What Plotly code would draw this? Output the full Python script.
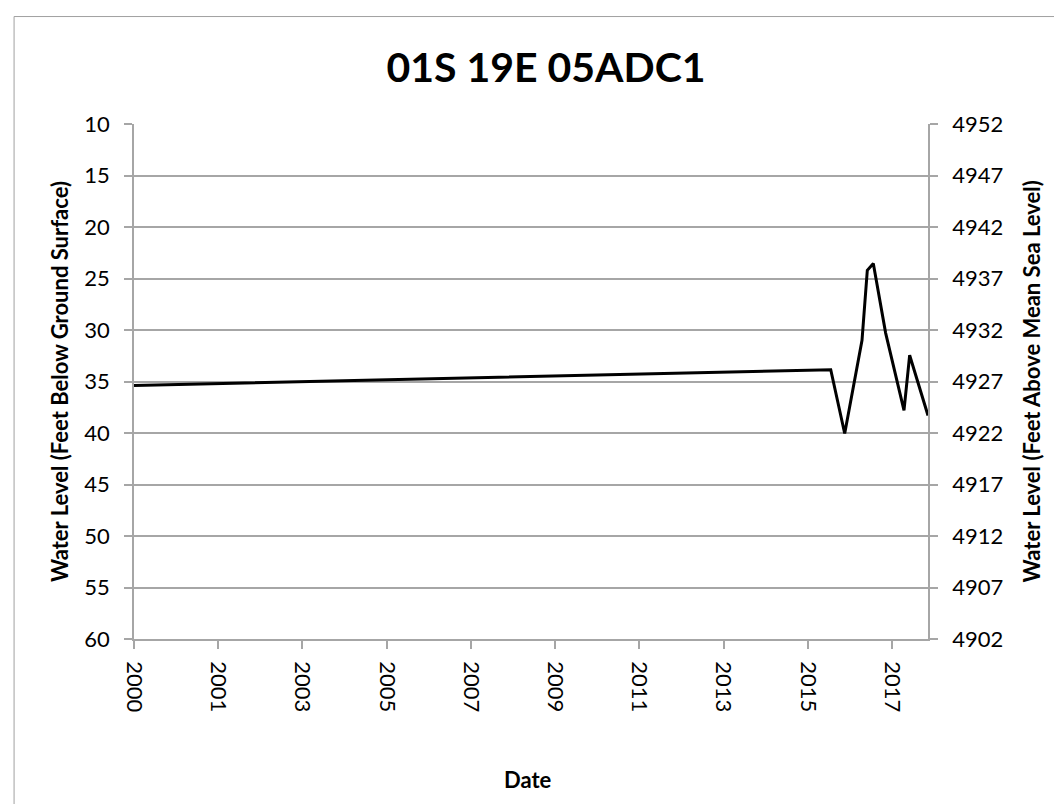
import plotly.graph_objects as go

# ---- data ----
dates = ["2000-01-01", "2016-07-14", "2016-11-12", "2017-04-11", "2017-05-27",
         "2017-07-18", "2017-11-02", "2018-04-10", "2018-05-29", "2018-11-04"]
depth = [35.4, 33.85, 40.05, 31.0, 24.2, 23.55, 30.3, 37.8, 32.45, 38.3]

x_tick_dates = ["2000-01-01", "2001-12-31", "2003-12-31", "2005-12-30", "2007-12-30",
                "2009-12-29", "2011-12-29", "2013-12-28", "2015-12-28", "2017-12-27"]
x_tick_text = ["2000", "2001", "2003", "2005", "2007", "2009", "2011", "2013", "2015", "2017"]

title_text = "01S 19E 05ADC1"
left_title = "Water Level (Feet Below Ground Surface)"
right_title = "Water Level (Feet Above Mean Sea Level)"
x_title = "Date"

W, H = 1062, 804
L, R, T, B = 125.5, 920.0, 115.5, 630.7
pw, ph = R - L, B - T

def px(xp):
    return (xp - L) / pw

def py(yp):
    return (B - yp) / ph

FONT = "Lato"
GRID = "#a6a6a6"

fig = go.Figure()
fig.add_trace(go.Scatter(x=dates, y=depth, mode="lines",
                         line=dict(color="black", width=3), showlegend=False))
# invisible trace to activate the secondary axis
fig.add_trace(go.Scatter(x=[dates[0]], y=[4930], yaxis="y2", mode="markers",
                         marker=dict(opacity=0), showlegend=False, hoverinfo="skip"))

fig.update_layout(
    width=W, height=H,
    margin=dict(l=L, r=W - R, t=T, b=H - B, autoexpand=False),
    paper_bgcolor="white", plot_bgcolor="white",
    font=dict(family=FONT, color="black", size=22),
    title=dict(text="<b>" + title_text + "</b>", x=538 / W, xref="container",
               xanchor="center", y=1 - 60 / H, yanchor="middle",
               font=dict(size=41, family=FONT)),
    xaxis=dict(type="date", range=[dates[0], dates[-1]],
               tickvals=x_tick_dates, ticktext=x_tick_text, tickangle=90,
               showgrid=False, showline=True, linecolor=GRID, linewidth=1.5,
               ticks="outside", ticklen=8, tickcolor=GRID, tickwidth=1.5,
               ticklabelstandoff=8, mirror=False, zeroline=False,
               tickfont=dict(size=22)),
    yaxis=dict(range=[60, 10], tick0=10, dtick=5, showgrid=True, gridcolor=GRID,
               gridwidth=1.5, showline=True, linecolor=GRID, linewidth=1.5,
               ticks="outside", ticklen=8, tickcolor=GRID, tickwidth=1.5,
               ticklabelstandoff=10, zeroline=False, tickfont=dict(size=22)),
    yaxis2=dict(range=[4902, 4952], tick0=4902, dtick=5, overlaying="y", side="right",
                showgrid=False, showline=True, linecolor=GRID, linewidth=1.5,
                ticks="outside", ticklen=8, tickcolor=GRID, tickwidth=1.5,
                ticklabelstandoff=10, zeroline=False, tickfont=dict(size=22)),
)

fig.add_annotation(text="<b>" + left_title + "</b>", xref="paper", yref="paper",
                   x=px(51), y=0.5, textangle=-90, showarrow=False,
                   xanchor="center", yanchor="middle", font=dict(size=22, family=FONT))
fig.add_annotation(text="<b>" + right_title + "</b>", xref="paper", yref="paper",
                   x=px(1024), y=0.5, textangle=-90, showarrow=False,
                   xanchor="center", yanchor="middle", font=dict(size=22, family=FONT))
fig.add_annotation(text="<b>" + x_title + "</b>", xref="paper", yref="paper",
                   x=px(520), y=py(771), showarrow=False,
                   xanchor="center", yanchor="middle", font=dict(size=22, family=FONT))

fig.add_shape(type="rect", xref="paper", yref="paper",
              x0=px(5.5), x1=px(1061), y0=py(803), y1=py(8),
              line=dict(color="#a0a0a0", width=1), fillcolor="rgba(0,0,0,0)", layer="below")

fig.write_html("out.html")
